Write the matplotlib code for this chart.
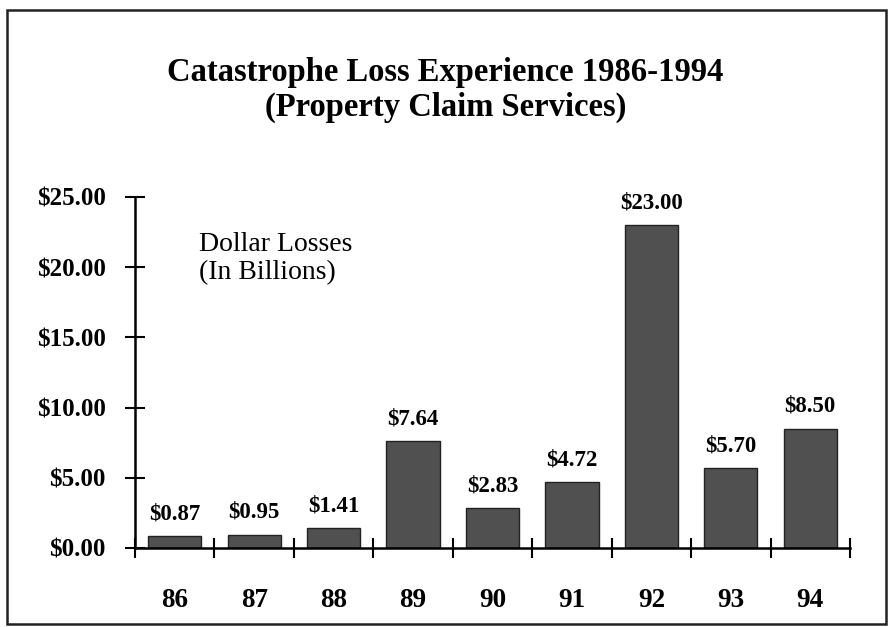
import matplotlib.pyplot as plt
import numpy as np
from matplotlib.patches import Rectangle
from matplotlib.ticker import FixedLocator, FuncFormatter

years = ['86', '87', '88', '89', '90', '91', '92', '93', '94']
losses = [0.87, 0.95, 1.41, 7.64, 2.83, 4.72, 23.00, 5.70, 8.50]
yticks = [0, 5, 10, 15, 20, 25]

plt.rcParams['font.family'] = ['Liberation Serif', 'DejaVu Serif']

fig = plt.figure(figsize=(8.91, 6.27), dpi=100)
ax = fig.add_axes([0.1515, 0.126, 0.8025, 0.56])

x = np.arange(len(years))
bars = ax.bar(x, losses, width=0.67, color='#505050', edgecolor='#222222', linewidth=1.0, zorder=2)

for xi, v in zip(x, losses):
    ax.annotate(f"${v:.2f}", (xi, v), xytext=(0, 12), textcoords='offset points',
                ha='center', va='baseline', fontsize=16.5, fontweight='bold')

# boundaries as major ticks, year labels at the centres
ax.xaxis.set_major_locator(FixedLocator(np.arange(-0.5, len(years), 1.0)))
ax.xaxis.set_major_formatter(FuncFormatter(lambda v, p: ''))
ax.set_xticks(x, labels=years, minor=True)
ax.tick_params(axis='x', which='minor', length=0, pad=29, labelsize=19.5)
ax.tick_params(axis='x', which='major', direction='inout', length=14, width=1.5)
for lab in ax.get_xticklabels(minor=True):
    lab.set_fontweight('bold')

ax.set_yticks(yticks)
ax.set_yticklabels([f"${t:.2f}" for t in yticks], fontsize=18, fontweight='bold')
ax.tick_params(axis='y', direction='inout', length=14, width=1.5, pad=14)

ax.set_xlim(-0.5, len(years) - 0.5)
ax.set_ylim(0, 25)
for s in ['top', 'right']:
    ax.spines[s].set_visible(False)
for s in ['left', 'bottom']:
    ax.spines[s].set_linewidth(1.8)

ax.text(0.09, 0.9, "Dollar Losses\n(In Billions)", transform=ax.transAxes,
        fontsize=20, va='top', ha='left', linespacing=1.15)

fig.text(0.5, 0.857, "Catastrophe Loss Experience 1986-1994\n(Property Claim Services)",
         ha='center', va='center', fontsize=23.5, fontweight='bold', linespacing=1.15)

fig.patches.append(Rectangle((0.008, 0.005), 0.986, 0.979, transform=fig.transFigure,
                             fill=False, edgecolor='#222222', linewidth=1.8))

fig.savefig('out.png', dpi=100)
